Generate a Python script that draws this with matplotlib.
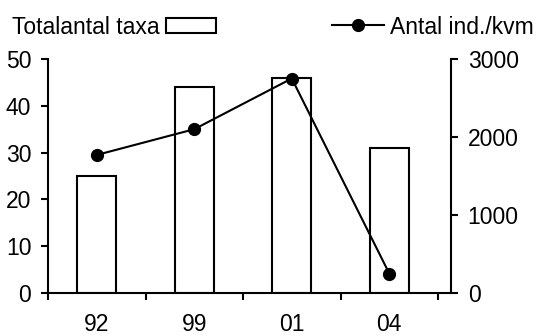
import matplotlib
matplotlib.use("Agg")
import matplotlib.pyplot as plt
import numpy as np

plt.rcParams['font.family'] = ['Liberation Sans', 'DejaVu Sans']

categories = ["92", "99", "01", "04"]
taxa = [25, 44, 46, 31]
ind_per_kvm = [1770, 2100, 2750, 250]

FS = 16.5
fig = plt.figure(figsize=(5.37, 3.36), dpi=100)
W, H = 537, 336
ax = fig.add_axes([48 / W, 1 - 293 / H, (451 - 48) / W, (293 - 59) / H])
x = np.arange(len(categories))

bars = ax.bar(x, taxa, width=0.4, facecolor="white", edgecolor="black",
              linewidth=1.5, label="Totalantal taxa", zorder=2)
ax.set_ylim(0, 50)
ax.set_xlim(-0.5, 3.633)
ax.set_yticks([0, 10, 20, 30, 40, 50])
ax.set_xticks(x)
ax.set_xticklabels(categories)
ax.set_xticks(np.arange(-0.5, 4.0, 1.0), minor=True)
ax.tick_params(axis="x", which="major", length=0, pad=14.5, labelsize=FS)
ax.tick_params(axis="x", which="minor", length=5, width=1.5, direction="out")
ax.tick_params(axis="y", length=5, width=1.5, direction="out", pad=7, labelsize=FS)
for s in ["top", "right"]:
    ax.spines[s].set_visible(False)
for s in ["left", "bottom"]:
    ax.spines[s].set_linewidth(1.5)

ax2 = ax.twinx()
line, = ax2.plot(x, ind_per_kvm, color="black", linewidth=1.5, marker="o",
                 markersize=8.5, label="Antal ind./kvm", zorder=3)
ax2.set_ylim(0, 3000)
ax2.set_yticks([0, 1000, 2000, 3000])
ax2.tick_params(axis="y", length=5, width=1.5, direction="out", pad=7, labelsize=FS)
for s in ["top", "left", "bottom"]:
    ax2.spines[s].set_visible(False)
ax2.spines["right"].set_linewidth(1.5)

fig.legend(handles=[bars], loc="center left", bbox_to_anchor=(12 / W, 1 - 27 / H),
           frameon=False, markerfirst=False, fontsize=FS, handlelength=2.2,
           handleheight=0.62, handletextpad=0.27, borderaxespad=0, borderpad=0)
fig.legend(handles=[line], loc="center left", bbox_to_anchor=(332 / W, 1 - 27 / H),
           frameon=False, fontsize=FS, handlelength=2.25, handletextpad=0.27,
           borderaxespad=0, borderpad=0)

fig.savefig("out.png", dpi=100)
